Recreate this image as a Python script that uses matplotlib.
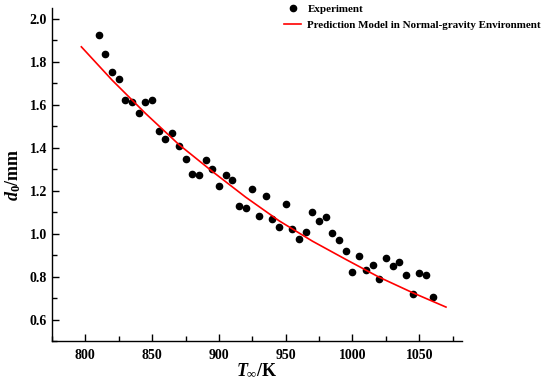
import matplotlib.pyplot as plt
from matplotlib.ticker import MultipleLocator

plt.rcParams['font.family'] = 'Liberation Serif'
plt.rcParams['font.weight'] = 'bold'
plt.rcParams['axes.labelweight'] = 'bold'
plt.rcParams['mathtext.fontset'] = 'custom'
plt.rcParams['mathtext.rm'] = 'Liberation Serif:bold'
plt.rcParams['mathtext.it'] = 'Liberation Serif:italic:bold'
plt.rcParams['mathtext.bf'] = 'Liberation Serif:bold'

# experiment points (T_inf in K, d0 in mm)
exp_T = [810, 815, 820, 825, 830, 835, 840, 845, 850, 855,
         860, 865, 870, 875, 880, 885, 890, 895, 900, 905,
         910, 915, 920, 925, 930, 935, 940, 945, 950, 955,
         960, 965, 970, 975, 980, 985, 990, 995, 1000, 1005,
         1010, 1015, 1020, 1025, 1030, 1035, 1040, 1045, 1050, 1055,
         1060]
exp_d = [1.925, 1.835, 1.754, 1.720, 1.622, 1.614, 1.560, 1.613, 1.622, 1.477,
         1.439, 1.467, 1.409, 1.348, 1.280, 1.275, 1.342, 1.303, 1.224, 1.275,
         1.249, 1.131, 1.121, 1.207, 1.081, 1.173, 1.070, 1.031, 1.140, 1.023,
         0.977, 1.008, 1.099, 1.059, 1.076, 1.005, 0.969, 0.917, 0.821, 0.897,
         0.829, 0.852, 0.791, 0.888, 0.847, 0.866, 0.807, 0.721, 0.815, 0.809,
         0.704]

# prediction model curve
model_T = [797, 820, 845, 870, 895, 920, 945, 970, 995, 1020, 1045, 1070]
model_d = [1.87, 1.715, 1.56, 1.415, 1.29, 1.17, 1.06, 0.965, 0.88, 0.797, 0.725, 0.658]

fig = plt.figure(figsize=(5.5, 3.89), dpi=100)
ax = fig.add_axes([0.0945, 0.1234, 0.7455, 0.8556])

ax.plot(exp_T, exp_d, 'o', color='black', markersize=4.5, label='Experiment')
ax.plot(model_T, model_d, '-', color='red', lw=1.2,
        label='Prediction Model in Normal-gravity Environment')

ax.set_xlim(775, 1082)
ax.set_ylim(0.5, 2.05)
ax.xaxis.set_major_locator(MultipleLocator(50))
ax.xaxis.set_minor_locator(MultipleLocator(25))
ax.yaxis.set_major_locator(MultipleLocator(0.2))
ax.yaxis.set_minor_locator(MultipleLocator(0.1))
ax.tick_params(which='both', direction='in', width=1, labelsize=10)
ax.tick_params(which='major', length=5)
ax.tick_params(which='minor', length=3.5)
ax.tick_params(axis='x', pad=6)

ax.spines['top'].set_visible(False)
ax.spines['right'].set_visible(False)
for s in ['left', 'bottom']:
    ax.spines[s].set_linewidth(1)

ax.set_xlabel(r'$T_{\infty}$/K', fontsize=13, labelpad=0)
ax.set_ylabel(r'$d_{\mathit{0}}$/mm', fontsize=13, labelpad=5)

fig.legend(loc='upper left', bbox_to_anchor=(0.503, 1.008), frameon=False,
           fontsize=7.9, handlelength=1.5, handletextpad=0.6,
           borderpad=0.2, labelspacing=0.55)

plt.savefig('out.png', dpi=100)
